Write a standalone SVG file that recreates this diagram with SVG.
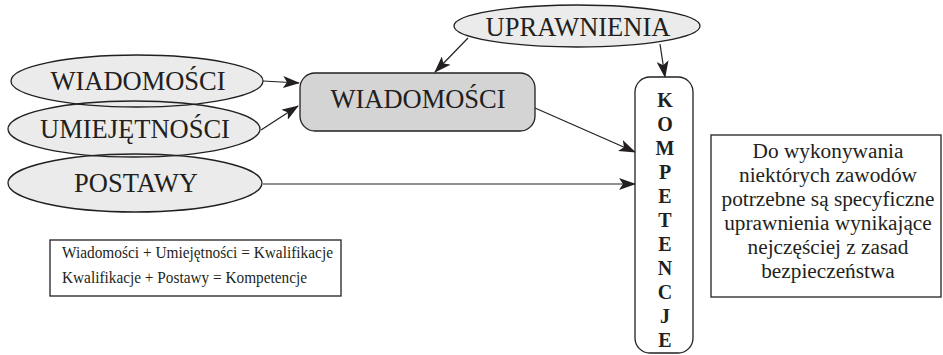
<svg xmlns="http://www.w3.org/2000/svg" width="943" height="355" viewBox="0 0 943 355">
<defs>
<style>
.ef{fill:#ebebeb;stroke:none}
.eo{fill:none;stroke:#231f20;stroke-width:1.3}
.lbl{font-family:"Liberation Serif","Times New Roman",serif;font-size:26.5px;fill:#231f20;text-anchor:middle}
.kl{font-family:"Liberation Serif","Times New Roman",serif;font-size:20px;font-weight:bold;fill:#231f20;text-anchor:middle}
.nt{font-family:"Liberation Serif","Times New Roman",serif;font-size:21.3px;fill:#231f20;text-anchor:middle}
.fm{font-family:"Liberation Serif","Times New Roman",serif;font-size:17.5px;fill:#231f20}
.box{fill:#ffffff;stroke:#231f20;stroke-width:1.3}
.ln{fill:none;stroke:#231f20;stroke-width:1.2}
</style>
<marker id="ah" markerUnits="userSpaceOnUse" markerWidth="18" markerHeight="12" refX="16" refY="6" orient="auto">
<path d="M0,0 L17,6 L0,12 L4,6 Z" fill="#231f20"/>
</marker>
</defs>
<rect width="943" height="355" fill="#ffffff"/>
<g id="ellipse-fills">
<ellipse class="ef" cx="137" cy="81" rx="126" ry="26"/>
<ellipse class="ef" cx="134" cy="129" rx="126" ry="28"/>
<ellipse class="ef" cx="135" cy="183" rx="127" ry="29"/>
<ellipse class="ef" cx="577" cy="26" rx="123" ry="21"/>
</g>
<g id="connectors">
<line class="ln" x1="263" y1="81" x2="299" y2="83" marker-end="url(#ah)"/>
<line class="ln" x1="261" y1="130" x2="298" y2="106" marker-end="url(#ah)"/>
<line class="ln" x1="468" y1="38" x2="435" y2="72" marker-end="url(#ah)"/>
<line class="ln" x1="660" y1="44" x2="665" y2="77" marker-end="url(#ah)"/>
<line class="ln" x1="535" y1="108" x2="635" y2="152" marker-end="url(#ah)"/>
<line class="ln" x1="263" y1="184" x2="635" y2="184" marker-end="url(#ah)"/>
</g>
<g id="n-wiadomosci">
<ellipse class="eo" cx="137" cy="81" rx="126" ry="26"/>
<text class="lbl" x="138" y="90">WIADOMOŚCI</text>
</g>
<g id="n-umiejetnosci">
<ellipse class="eo" cx="134" cy="129" rx="126" ry="28"/>
<text class="lbl" x="135" y="138">UMIEJĘTNOŚCI</text>
</g>
<g id="n-postawy">
<ellipse class="eo" cx="135" cy="183" rx="127" ry="29"/>
<text class="lbl" x="136" y="192">POSTAWY</text>
</g>
<g id="n-uprawnienia">
<ellipse class="eo" cx="577" cy="26" rx="123" ry="21"/>
<text class="lbl" x="578" y="36">UPRAWNIENIA</text>
</g>
<g id="n-wiadomosci-box">
<rect x="300" y="73" width="235" height="58" rx="15" ry="15" fill="#d4d4d4" stroke="#231f20" stroke-width="1.3"/>
<text class="lbl" x="418" y="108">WIADOMOŚCI</text>
</g>
<g id="n-kompetencje">
<rect class="box" x="635" y="77" width="58" height="276" rx="15" ry="15"/>
<text class="kl" x="665" y="107">K</text>
<text class="kl" x="665" y="131">O</text>
<text class="kl" x="665" y="155">M</text>
<text class="kl" x="665" y="179">P</text>
<text class="kl" x="665" y="203">E</text>
<text class="kl" x="665" y="227">T</text>
<text class="kl" x="665" y="251">E</text>
<text class="kl" x="665" y="275">N</text>
<text class="kl" x="665" y="299">C</text>
<text class="kl" x="665" y="323">J</text>
<text class="kl" x="665" y="347">E</text>
</g>
<g id="n-note">
<rect class="box" x="711" y="135" width="230" height="162"/>
<text class="nt" x="828" y="158">Do wykonywania</text>
<text class="nt" x="828" y="182">niektórych zawodów</text>
<text class="nt" x="828" y="206">potrzebne są specyficzne</text>
<text class="nt" x="828" y="230">uprawnienia wynikające</text>
<text class="nt" x="828" y="254">nejczęściej z zasad</text>
<text class="nt" x="828" y="278">bezpieczeństwa</text>
</g>
<g id="n-formula">
<rect class="box" x="50" y="240" width="291" height="56"/>
<text class="fm" x="62" y="258" textLength="271" lengthAdjust="spacingAndGlyphs">Wiadomości + Umiejętności = Kwalifikacje</text>
<text class="fm" x="62" y="283" textLength="245" lengthAdjust="spacingAndGlyphs">Kwalifikacje + Postawy = Kompetencje</text>
</g>
</svg>
